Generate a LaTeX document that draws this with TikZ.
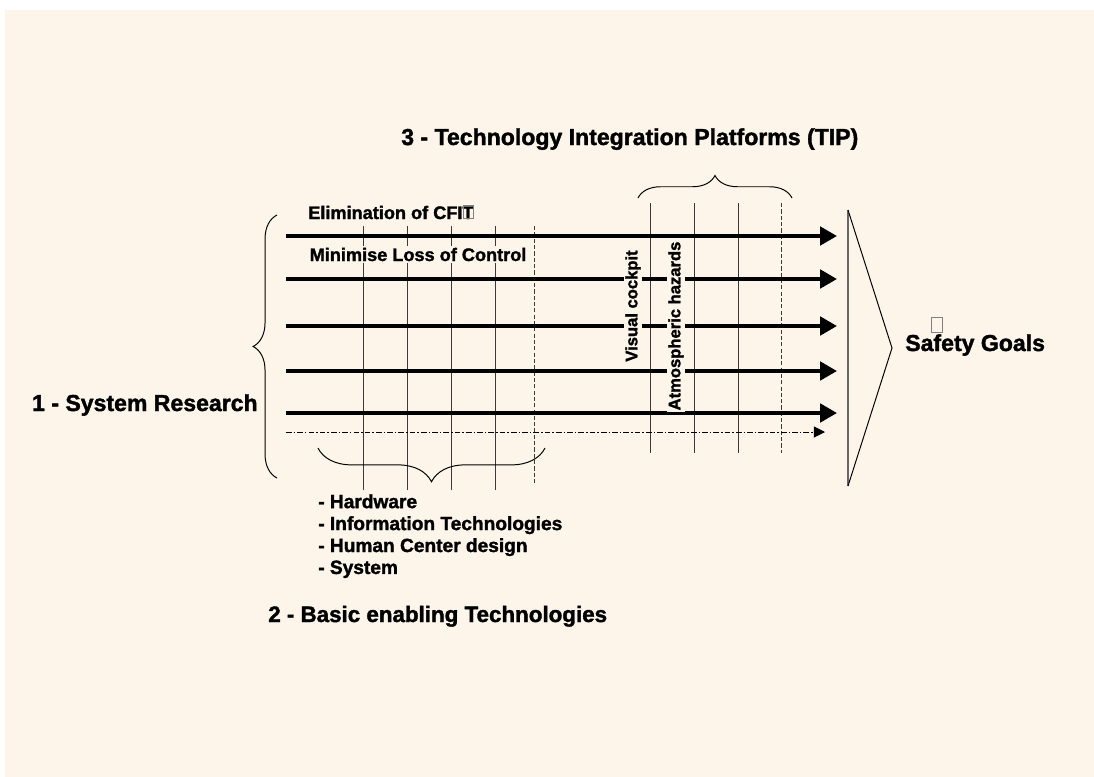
\documentclass[tikz,border=0pt]{standalone}
\usepackage{fontspec}
\setmainfont{Liberation Sans}
\newfontfamily\labelfont[FakeBold=1.6]{Liberation Sans Bold}
\usetikzlibrary{arrows.meta,decorations.pathreplacing}
\definecolor{paper}{HTML}{FDF5E9}
\definecolor{rulegray}{HTML}{3A3A3A}

\tikzset{
  flow/.style={line width=2.8pt,-{Triangle[length=12pt,width=13pt]}},
  spare/.style={line width=0.7pt,dash pattern=on 4pt off 1.5pt on 1pt off 1.5pt,
    -{Triangle[length=8pt,width=8pt]}},
  tech/.style={line width=0.7pt,draw=rulegray},
  curly/.style={line width=0.7pt,decorate,decoration={brace,amplitude=#1}},
  head/.style={inner sep=0pt,font=\labelfont\fontsize{16.4}{19}\selectfont},
  item/.style={inner sep=0pt,font=\labelfont\fontsize{13.6}{15.6}\selectfont},
  goal/.style={inner sep=0pt,font=\labelfont\fontsize{12.9}{15}\selectfont},
  tip/.style={inner sep=1pt,fill=paper,rotate=90,font=\labelfont\fontsize{11.8}{14}\selectfont},
  missing/.style={draw=gray,line width=0.5pt}
}

\begin{document}
\begin{tikzpicture}[x=0.025cm,y=-0.025cm]
% page and paper
\fill[white] (0,0) rectangle (1094,777);
\fill[paper] (5,10) rectangle (1094,777);

% basic technologies and platforms (vertical)
\foreach \x in {363,407,451,495}
  \draw[tech] (\x,226) -- (\x,490);
\draw[tech,dash pattern=on 3pt off 1.5pt] (534,226) -- (534,483);
\foreach \x in {650,694,738}
  \draw[tech] (\x,203) -- (\x,453);
\draw[tech,dash pattern=on 3pt off 1.5pt] (781,203) -- (781,453);

% research lines
\foreach \y [count=\i] in {236,279,326,371,413}{
  \coordinate (s\i) at (286,\y);
  \coordinate (e\i) at (837,\y);
  \draw[flow] (s\i) -- (e\i);
}
\coordinate (s6) at (286,432);
\coordinate (e6) at (825,432);
\draw[spare] (s6) -- (e6);

% goal wedge
\coordinate (gt) at (848,210);
\coordinate (gb) at (848,486);
\coordinate (gp) at (892,348);
\draw[gray!80!black,line width=1pt] (gt) -- (gb);
\draw[line width=0.7pt] (gt) -- (gp) -- (gb);

% braces
\draw[curly=16pt] (638,198) -- (792,198);
\draw[curly=24pt] (545,448) -- (318,448);
\draw[curly=17pt] (277,478) -- (277,215);

% labels
\node[head,anchor=base west] (tipt) at (401,145) {3 - Technology Integration Platforms (TIP)};
\node[goal,anchor=base west] (cfit) at (308,219) {Elimination of CFIT};
\node[goal,anchor=base west,fill=paper,inner sep=1pt] (loc) at (308,261) {Minimise Loss of Control};
\node[tip] (vis) at (633,306) {Visual cockpit};
\node[tip] (atm) at (676,326) {Atmospheric hazards};
\node[head,anchor=base east] (sysr) at (258,411) {1 - System Research};
\node[head,anchor=base west] (goals) at (905,351) {Safety Goals};
\node[item,anchor=north west,align=left] (list) at (318,494)
  {- Hardware\\- Information Technologies\\- Human Center design\\- System};
\node[head,anchor=base west,font=\labelfont\fontsize{15.9}{19}\selectfont] (bet) at (268,622)
  {2 - Basic enabling Technologies};

% empty glyph frames
\draw[missing] (cfit.east) ++(-10,-7) rectangle ++(10,13);
\draw[missing] (931,317) rectangle (942,332);
\end{tikzpicture}
\end{document}
